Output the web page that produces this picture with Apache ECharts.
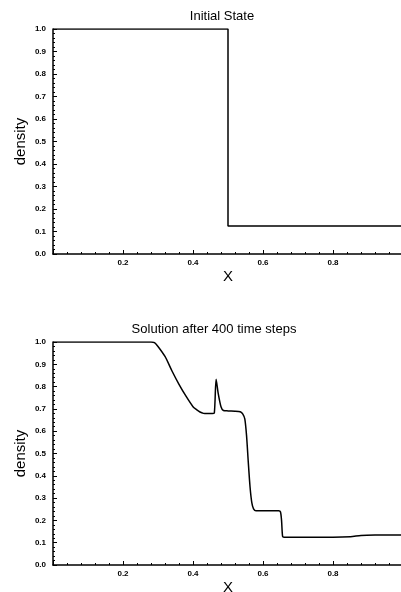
<!DOCTYPE html>
<html>
<head>
<meta charset="utf-8">
<script src="https://cdn.jsdelivr.net/npm/echarts@6/dist/echarts.min.js"></script>
<style>
  html, body { margin: 0; padding: 0; background: #fff; }
  #chart { width: 401px; height: 592px; }
</style>
</head>
<body>
<div id="chart"></div>
<script>
// Sod shock tube: density profile at t = 0
const initialX = [0, 0.5, 0.5, 1.0];
const initialDensity = [1.0, 1.0, 0.125, 0.125];

// Density profile after 400 time steps
const solutionX = [0, 0.27, 0.28, 0.29, 0.30, 0.32, 0.34, 0.36, 0.38, 0.40, 0.41, 0.42, 0.43, 0.44, 0.455,
  0.461, 0.466, 0.472, 0.48, 0.487, 0.50, 0.52, 0.535, 0.542, 0.548, 0.553, 0.558, 0.563, 0.568, 0.573,
  0.58, 0.60, 0.62, 0.645, 0.650, 0.653, 0.656, 0.66, 0.70, 0.75, 0.80, 0.85, 0.88, 0.92, 1.0];
const solutionDensity = [1.0, 1.0, 1.0, 0.997, 0.98, 0.935, 0.87, 0.81, 0.757, 0.71, 0.697, 0.686, 0.680, 0.679, 0.679,
  0.682, 0.833, 0.77, 0.71, 0.693, 0.691, 0.69, 0.687, 0.678, 0.655, 0.58, 0.46, 0.35, 0.28, 0.252,
  0.243, 0.243, 0.243, 0.243, 0.238, 0.20, 0.128, 0.125, 0.125, 0.125, 0.125, 0.127, 0.132, 0.134, 0.135];

const panelTitles = ['Initial State', 'Solution after 400 time steps'];
const xTicks = [0.2, 0.4, 0.6, 0.8];

const pairs = (xs, ys) => xs.map((x, i) => [x, ys[i]]);

const family = 'Liberation Sans, Arial, sans-serif';
const tickFont = { fontFamily: family, fontSize: 8, fontWeight: 'bold', color: '#000' };
const nameFont = { fontFamily: family, fontSize: 15, color: '#000' };

function xAxisFor(gridIndex) {
  return {
    type: 'value', gridIndex, min: 0, max: 1, interval: 0.2,
    name: 'X', nameLocation: 'middle', nameGap: 15, nameMoveOverlap: false, nameTextStyle: nameFont,
    axisLine: { lineStyle: { color: '#000', width: 1.5 } },
    axisTick: { inside: true, length: 4, lineStyle: { color: '#000', width: 1 } },
    minorTick: { show: true, splitNumber: 5, length: 2, lineStyle: { color: '#000', width: 1 } },
    axisLabel: {
      ...tickFont, margin: 5,
      formatter: v => (xTicks.some(t => Math.abs(t - v) < 1e-9) ? v.toFixed(1) : '')
    },
    splitLine: { show: false }
  };
}

function yAxisFor(gridIndex) {
  return {
    type: 'value', gridIndex, min: 0, max: 1, interval: 0.1,
    name: 'density', nameLocation: 'middle', nameGap: 25, nameMoveOverlap: false, nameTextStyle: nameFont,
    axisLine: { lineStyle: { color: '#000', width: 1.5 } },
    axisTick: { inside: true, length: 4, lineStyle: { color: '#000', width: 1 } },
    minorTick: { show: true, splitNumber: 5, length: 2, lineStyle: { color: '#000', width: 1 } },
    axisLabel: { ...tickFont, margin: 7, formatter: v => v.toFixed(1) },
    splitLine: { show: false }
  };
}

const chart = echarts.init(document.getElementById('chart'), null, { renderer: 'canvas' });
chart.setOption({
  backgroundColor: '#fff',
  animation: false,
  title: [
    { text: panelTitles[0], left: 217, top: 5, textAlign: 'center',
      textStyle: { fontFamily: family, fontSize: 13, fontWeight: 'normal', color: '#000' } },
    { text: panelTitles[1], left: 209, top: 318, textAlign: 'center',
      textStyle: { fontFamily: family, fontSize: 13, fontWeight: 'normal', color: '#000' } }
  ],
  grid: [
    { left: 53, top: 29, width: 350, height: 225, outerBoundsMode: 'none', containLabel: false },
    { left: 53, top: 342, width: 350, height: 223, outerBoundsMode: 'none', containLabel: false }
  ],
  xAxis: [xAxisFor(0), xAxisFor(1)],
  yAxis: [yAxisFor(0), yAxisFor(1)],
  series: [
    { type: 'line', xAxisIndex: 0, yAxisIndex: 0, data: pairs(initialX, initialDensity),
      showSymbol: false, lineStyle: { color: '#000', width: 1.5 } },
    { type: 'line', xAxisIndex: 1, yAxisIndex: 1, data: pairs(solutionX, solutionDensity),
      showSymbol: false, smooth: 0.25, lineStyle: { color: '#000', width: 1.5 } }
  ]
});
</script>
</body>
</html>
